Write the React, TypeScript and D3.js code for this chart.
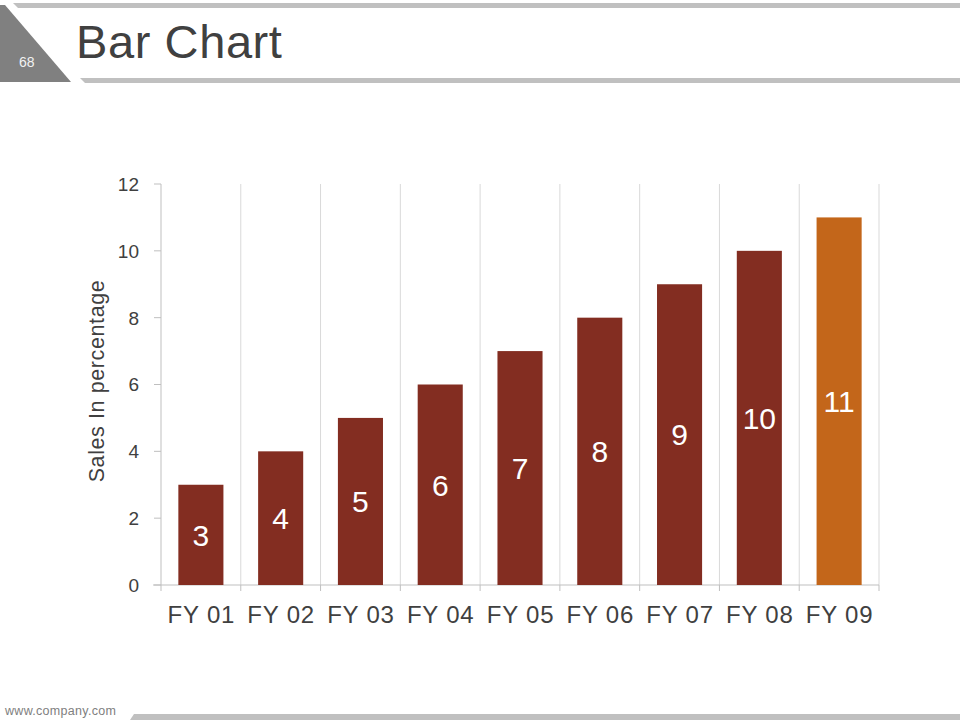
import React from "react";
import * as d3 from "d3";

const categories = ["FY 01", "FY 02", "FY 03", "FY 04", "FY 05", "FY 06", "FY 07", "FY 08", "FY 09"];
const values = [3, 4, 5, 6, 7, 8, 9, 10, 11];
const yTicks = [0, 2, 4, 6, 8, 10, 12];
const barColors = ["#832d21", "#832d21", "#832d21", "#832d21", "#832d21", "#832d21", "#832d21", "#832d21", "#c3661a"];

const FONT = "'Liberation Sans', Arial, sans-serif";

export default function App() {
  const W = 960, H = 720;
  const x = d3.scaleBand<string>().domain(categories).range([161, 879]).paddingInner(0).paddingOuter(0);
  const y = d3.scaleLinear().domain([0, 12]).range([585, 184]);
  const bw = x.bandwidth();
  const barW = bw * 0.565;
  const bounds = [...categories.map((c) => x(c) as number), 879];

  return (
    <svg width={W} height={H} style={{ position: "absolute", left: 0, top: 0 }} fontFamily={FONT}>
      <rect x={0} y={0} width={W} height={H} fill="#ffffff" />
      {/* header decorations */}
      <polygon points="13,3 960,3 960,8 18,8" fill="#c0c0c0" />
      <polygon points="0,5 5,5 71,82 0,82" fill="#808080" />
      <polygon points="80,78 960,78 960,83 85,83" fill="#c0c0c0" />
      <text x={19} y={67} fontSize={14} fill="#f2f2f2">68</text>
      <text x={76} y={58} fontSize={47} letterSpacing={0.6} fill="#404040">Bar Chart</text>

      {/* gridlines */}
      {bounds.slice(1).map((bx, i) => (
        <line key={"g" + i} x1={bx} x2={bx} y1={184} y2={585} stroke="#d9d9d9" strokeWidth={1} />
      ))}
      {/* y axis */}
      <line x1={161} x2={161} y1={184} y2={585} stroke="#bfbfbf" strokeWidth={1} />
      {yTicks.map((t) => (
        <g key={"yt" + t}>
          <line x1={154} x2={161} y1={y(t)} y2={y(t)} stroke="#bfbfbf" />
          <text x={139} y={y(t)} dy="0.36em" textAnchor="end" fontSize={19} fill="#404040">{t}</text>
        </g>
      ))}
      {/* x axis */}
      <line x1={153} x2={879} y1={585} y2={585} stroke="#bfbfbf" strokeWidth={1} />
      {bounds.map((bx, i) => (
        <line key={"xt" + i} x1={bx} x2={bx} y1={585} y2={591} stroke="#bfbfbf" />
      ))}
      {categories.map((c) => (
        <text key={"xl" + c} x={(x(c) as number) + bw / 2 + 0.5} y={623} textAnchor="middle" fontSize={24} letterSpacing={0.8} fill="#404040">{c}</text>
      ))}

      {/* bars */}
      {categories.map((c, i) => {
        const cx = (x(c) as number) + bw / 2;
        const top = y(values[i]);
        return (
          <g key={"b" + c}>
            <rect x={cx - barW / 2} y={top} width={barW} height={y(0) - top} fill={barColors[i]} />
            <text x={cx} y={(top + y(0)) / 2} dy="0.36em" textAnchor="middle" fontSize={30} fill="#ffffff">{values[i]}</text>
          </g>
        );
      })}

      {/* axis title */}
      <text transform="translate(104,381) rotate(-90)" textAnchor="middle" fontSize={21.5} letterSpacing={0.6} fill="#404040">Sales In percentage</text>

      {/* footer */}
      <text x={5} y={715} fontSize={12.5} letterSpacing={0.3} fill="#808080">www.company.com</text>
      <polygon points="134,714 960,714 960,720 130,720" fill="#c0c0c0" />
    </svg>
  );
}
